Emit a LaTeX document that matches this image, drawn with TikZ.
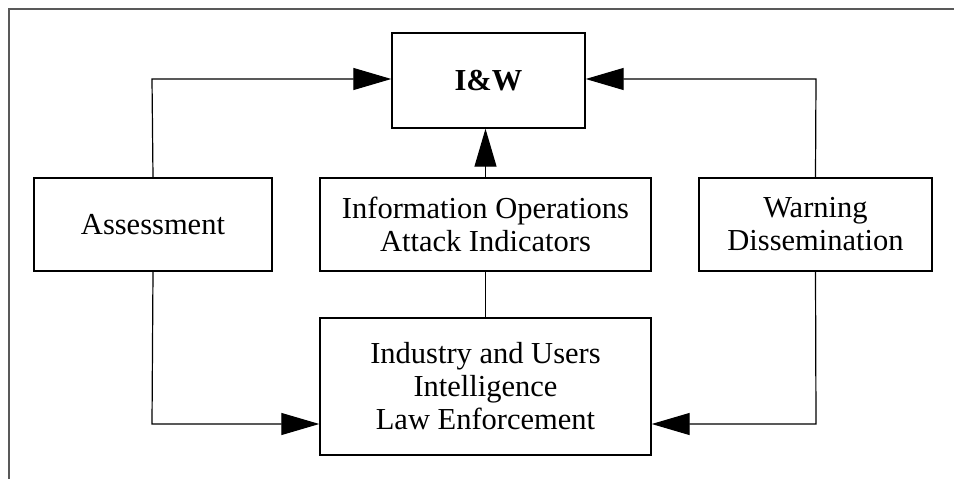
\documentclass[tikz,border=0pt]{standalone}
\usepackage{fontspec}
\setmainfont{Liberation Serif}
\usetikzlibrary{arrows.meta}
\begin{document}
\begin{tikzpicture}[x=1pt,y=-1pt,
  blk/.style={draw, line width=1.4pt, inner sep=0pt, align=center,
    font=\fontsize{30.5}{33}\selectfont},
  conn/.style={line width=1.2pt},
  tip/.style={-{Triangle[length=38pt,width=22pt]}}]
\useasboundingbox (0,0) rectangle (954,479);
% frame
\draw[line width=1.6pt, gray!70!black] (954,9) -- (9,9) -- (9,479);
% blocks
\node[blk, minimum width=193pt, minimum height=95pt] (iw) at (488.5,80.5) {\textbf{I\&W}};
\node[blk, minimum width=238pt, minimum height=93pt] (as) at (153,224.5) {Assessment};
\node[blk, minimum width=331pt, minimum height=93pt] (io) at (485.5,224.5) {Information Operations\\Attack Indicators};
\node[blk, minimum width=233pt, minimum height=93pt] (wd) at (815.5,224.5) {Warning\\Dissemination};
\node[blk, minimum width=331pt, minimum height=137pt] (ind) at (485.5,386.5) {Industry and Users\\Intelligence\\Law Enforcement};
% connectors
\coordinate (c1) at (152,79);
\coordinate (c2) at (816,79);
\coordinate (c3) at (152,424);
\coordinate (c4) at (816,424);
\draw[conn,tip] (as.north) -- (c1) -- (iw.west |- c1);
\draw[conn,tip] (wd.north) -- (c2) -- (iw.east |- c2);
\draw[conn,tip] (io.north) -- (iw.south -| io.north);
\draw[conn] (io.south) -- (ind.north);
\draw[conn,tip] (as.south) -- (c3) -- (ind.west |- c3);
\draw[conn,tip] (wd.south) -- (c4) -- (ind.east |- c4);
\end{tikzpicture}
\end{document}
